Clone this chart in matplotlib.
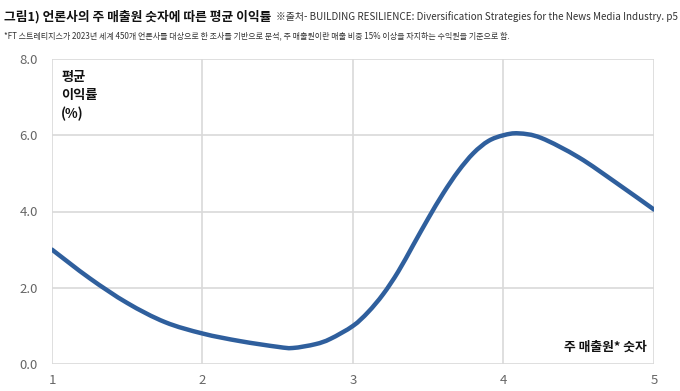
import matplotlib
matplotlib.use("Agg")
import matplotlib.pyplot as plt
from matplotlib.path import Path
from matplotlib.patches import PathPatch
import numpy as np

plt.rcParams['font.family'] = ['Noto Sans CJK KR', 'DejaVu Sans']

# values
x_vals = [1.0, 1.25, 1.5, 1.75, 2.0, 2.25, 2.5, 2.6, 2.75, 2.85, 3.0, 3.1, 3.2, 3.3, 3.4, 3.5, 3.6, 3.7, 3.8, 3.9, 4.0, 4.1, 4.25, 4.5, 4.75, 5.0]
y_vals = [3.0, 2.25, 1.6, 1.1, 0.8, 0.6, 0.45, 0.42, 0.52, 0.66, 1.0, 1.36, 1.83, 2.42, 3.12, 3.82, 4.48, 5.06, 5.53, 5.85, 6.0, 6.05, 5.93, 5.42, 4.75, 4.05]
x_ticks = [1, 2, 3, 4, 5]
y_ticks = [0, 2, 4, 6, 8]
y_ticklabels = ["0.0", "2.0", "4.0", "6.0", "8.0"]

title = "그림1) 언론사의 주 매출원 숫자에 따른 평균 이익률"
source = "※출처- BUILDING RESILIENCE: Diversification Strategies for the News Media Industry. p5"
note = "*FT 스트레티지스가 2023년 세계 450개 언론사를 대상으로 한 조사를 기반으로 분석, 주 매출원이란 매출 비중 15% 이상을 차지하는 수익원을 기준으로 함."
ylabel = "평균\n이익률\n(%)"
xlabel = "주 매출원* 숫자"

line_color = "#2f5f9d"
grid_color = "#d9d9d9"
tick_color = "#666666"

fig = plt.figure(figsize=(6.8, 3.91), dpi=100)
ax = fig.add_axes([52/680, 1-364/391, (654-52)/680, (364-59)/391])

# smooth curve through the read points (Catmull-Rom as cubic Beziers)
pts = np.column_stack([x_vals, y_vals])
verts = [tuple(pts[0])]
codes = [Path.MOVETO]
n = len(pts)
for i in range(n-1):
    p0 = pts[i-1] if i > 0 else pts[i]
    p1 = pts[i]
    p2 = pts[i+1]
    p3 = pts[i+2] if i+2 < n else pts[i+1]
    c1 = p1 + (p2 - p0) / 6.0
    c2 = p2 - (p3 - p1) / 6.0
    verts += [tuple(c1), tuple(c2), tuple(p2)]
    codes += [Path.CURVE4]*3
patch = PathPatch(Path(verts, codes), facecolor='none', edgecolor=line_color,
                  lw=3.2, capstyle='round', joinstyle='round', zorder=3)
ax.add_patch(patch)

ax.set_xlim(1, 5)
ax.set_ylim(0, 8)
ax.set_xticks(x_ticks)
ax.set_yticks(y_ticks)
ax.set_yticklabels(y_ticklabels)
ax.grid(True, color=grid_color, lw=1.2)
ax.set_axisbelow(True)
for s in ax.spines.values():
    s.set_visible(False)
ax.tick_params(length=0, colors=tick_color, labelsize=9.5)
ax.tick_params(axis='y', pad=10)
ax.tick_params(axis='x', pad=7)

ax.text(0.015, 0.965, ylabel, transform=ax.transAxes, ha='left', va='top',
        fontsize=9.5, fontweight='bold', color='#111111', linespacing=1.4)
ax.text(0.988, 0.035, xlabel, transform=ax.transAxes, ha='right', va='bottom',
        fontsize=9.2, fontweight='bold', color='#111111')

fig.text(4/680, 1-17/391, title, ha='left', va='center', fontsize=9.2,
         fontweight='bold', color='#111111')
fig.text(678/680, 1-17/391, source, ha='right', va='center', fontsize=7.1,
         color='#333333')
fig.text(4/680, 1-36/391, note, ha='left', va='center', fontsize=5.8,
         color='#333333')

fig.savefig("out.png", dpi=100)
